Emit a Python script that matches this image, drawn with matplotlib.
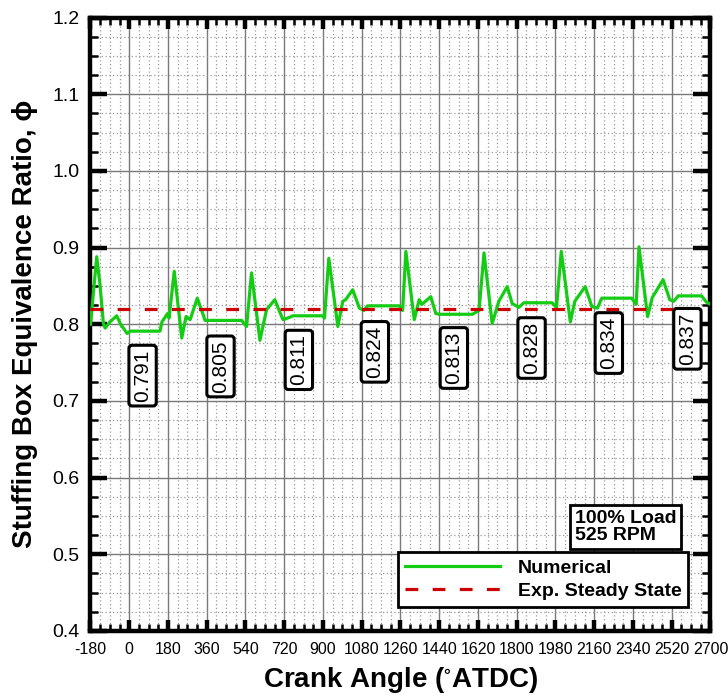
import matplotlib
matplotlib.use("Agg")
import matplotlib.pyplot as plt
from matplotlib.ticker import MultipleLocator, FormatStrFormatter
from matplotlib.font_manager import fontManager

# ---- data -------------------------------------------------------------
# steady plateau of each engine cycle (crank angle span and equivalence ratio)
plateau_start = [5, 352, 760, 1108, 1440, 1833, 2195, 2550]
plateau_end = [143, 522, 899, 1254, 1594, 1964, 2334, 2658]
plateau_phi = [0.791, 0.805, 0.811, 0.824, 0.813, 0.828, 0.834, 0.837]

# transient part of the numerical trace (scavenging spikes between plateaus)
transient_angle = [-180, -151, -136, -120, -112, -90, -58, -40, -10,
                   152, 178, 185, 209, 244, 264, 283, 316, 344,
                   545, 568, 607, 638, 676, 714, 745,
                   907, 927, 969, 992, 1005, 1038, 1069, 1090,
                   1270, 1285, 1324, 1347, 1360, 1401, 1424,
                   1625, 1648, 1686, 1717, 1756, 1779, 1810,
                   1985, 2007, 2049, 2070, 2118, 2149, 2175,
                   2355, 2368, 2408, 2430, 2480, 2511, 2530,
                   2681, 2700]
transient_phi = [0.800, 0.888, 0.852, 0.801, 0.795, 0.803, 0.811, 0.800, 0.788,
                 0.803, 0.814, 0.808, 0.869, 0.782, 0.810, 0.806, 0.834, 0.812,
                 0.797, 0.867, 0.779, 0.819, 0.832, 0.806, 0.809,
                 0.808, 0.886, 0.797, 0.830, 0.832, 0.845, 0.821, 0.818,
                 0.818, 0.895, 0.806, 0.832, 0.826, 0.836, 0.814,
                 0.818, 0.893, 0.801, 0.830, 0.849, 0.827, 0.822,
                 0.822, 0.895, 0.803, 0.830, 0.849, 0.823, 0.821,
                 0.826, 0.901, 0.810, 0.835, 0.858, 0.832, 0.830,
                 0.829, 0.826]

# experimental steady-state value
exp_steady_phi = 0.82

# placement of the plateau value tags
label_angle = [62, 424, 788, 1141, 1508, 1869, 2228, 2593]
label_phi = [0.733, 0.745, 0.7535, 0.764, 0.756, 0.769, 0.7755, 0.781]

x_ticks = list(range(-180, 2701, 180))
y_ticks = [0.4, 0.5, 0.6, 0.7, 0.8, 0.9, 1.0, 1.1, 1.2]

# ---- assemble the numerical trace -------------------------------------
points = list(zip(transient_angle, transient_phi))
for s, e, v in zip(plateau_start, plateau_end, plateau_phi):
    points += [(s, v), (e, v)]
points.sort(key=lambda p: p[0])
crank = [p[0] for p in points]
phi = [p[1] for p in points]

# ---- fonts ------------------------------------------------------------
names = {f.name for f in fontManager.ttflist}
base_font = "Liberation Sans" if "Liberation Sans" in names else "DejaVu Sans"
narrow_font = "Liberation Sans Narrow" if "Liberation Sans Narrow" in names else base_font
plt.rcParams["font.family"] = [base_font, "DejaVu Sans"]
plt.rcParams["axes.unicode_minus"] = False

# ---- figure -----------------------------------------------------------
fig = plt.figure(figsize=(7.28, 7.00), dpi=100)
ax = fig.add_axes([0.1243, 0.0986, 0.8516, 0.8764])

green = "#14cc14"
red = "#cc0000"

ax.plot(crank, phi, color=green, lw=2.3, label="Numerical", zorder=3,
        solid_joinstyle="round")
ax.axhline(exp_steady_phi, color=red, lw=2.3, ls=(0, (4, 4.5)),
           label="Exp. Steady State", zorder=3)

for a, y, v in zip(label_angle, label_phi, plateau_phi):
    ax.text(a, y, f"{v:.3f}", rotation=90, ha="center", va="center",
            fontsize=15, zorder=4,
            bbox=dict(boxstyle="round,pad=0.2,rounding_size=0.15",
                      fc="white", ec="black", lw=2.2))

ax.set_xlim(-180, 2700)
ax.set_ylim(0.4, 1.2)
ax.set_xticks(x_ticks)
ax.set_yticks(y_ticks)
ax.xaxis.set_minor_locator(MultipleLocator(45))
ax.yaxis.set_minor_locator(MultipleLocator(0.025))
ax.yaxis.set_major_formatter(FormatStrFormatter("%.1f"))

ax.grid(which="major", color="#7a7a7a", lw=1.0, ls="-", zorder=0)
ax.grid(which="minor", color="#9a9a9a", lw=0.9, ls=(0, (1, 2)), zorder=0)
ax.set_axisbelow(True)

for sp in ax.spines.values():
    sp.set_linewidth(3.2)
    sp.set_color("black")

ax.tick_params(which="both", direction="in", top=True, right=True, color="black")
ax.tick_params(axis="y", which="major", length=12, width=3.2, labelsize=14, pad=8)
ax.tick_params(axis="y", which="minor", length=6, width=1.8)
ax.tick_params(axis="x", which="major", length=8, width=3.2, pad=8)
ax.tick_params(axis="x", which="minor", length=5, width=1.8)
for lab in ax.get_xticklabels():
    lab.set_fontfamily([narrow_font, base_font])
    lab.set_fontsize(11.5)

ax.set_xlabel("Crank Angle ($\\mathregular{^{\\circ}}$ATDC)", fontsize=20,
              fontweight="bold", labelpad=6)
ax.set_ylabel("Stuffing Box Equivalence Ratio, \u03d5", fontsize=20,
              fontweight="bold", labelpad=10)

ax.text(0.781, 0.197, "100% Load\n525 RPM", transform=ax.transAxes,
        ha="left", va="top", fontsize=14, fontweight="bold", linespacing=1.0,
        zorder=4,
        bbox=dict(boxstyle="square,pad=0.25", fc="white", ec="black", lw=2))

leg = ax.legend(loc="lower right", bbox_to_anchor=(0.964, 0.039),
                borderaxespad=0, fancybox=False, framealpha=1,
                edgecolor="black", handlelength=4.9, handletextpad=0.9,
                prop=dict(family=base_font, weight="bold", size=14),
                borderpad=0.35, labelspacing=0.3)
leg.get_frame().set_linewidth(2)
leg.set_zorder(6)

fig.savefig("out.png", dpi=100)
